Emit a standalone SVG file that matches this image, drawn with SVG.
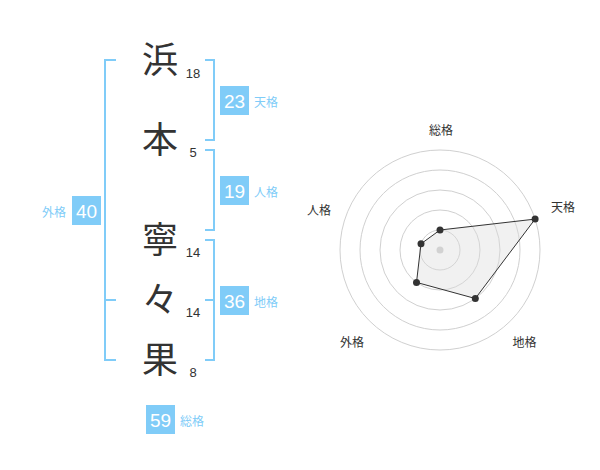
<svg xmlns="http://www.w3.org/2000/svg" width="600" height="470" viewBox="0 0 600 470">
<style>
.ch{font-family:"Noto Sans CJK JP","Noto Sans CJK SC",sans-serif;font-size:36px;fill:#333;text-anchor:middle}
.num{font-family:"Liberation Sans",Arial,sans-serif;font-size:13px;fill:#333;text-anchor:middle}
.box{fill:#80ccf8}
.bnum{font-family:"Liberation Sans",Arial,sans-serif;font-size:19px;fill:#fff;text-anchor:middle}
.blab{font-family:"Noto Sans CJK JP","Noto Sans CJK SC",sans-serif;font-size:12px;fill:#80ccf8}
.br{fill:none;stroke:#80ccf8;stroke-width:2}
.ring{fill:none;stroke:#d0d0d0;stroke-width:1}
.rlab{font-family:"Noto Sans CJK JP","Noto Sans CJK SC",sans-serif;font-size:12px;fill:#333;text-anchor:middle}
.pt{fill:#333}
</style>
<rect width="600" height="470" fill="#fff"/>
<g id="connectors">
<path class="br" d="M116,60 H105 V360 H116 M105,300 H116"/>
<path class="br" d="M205,60 H214 V140 H205"/>
<path class="br" d="M205,150 H214 V230 H205"/>
<path class="br" d="M205,240 H214 V360 H205 M205,300 H214"/>
</g>
<g id="char-hama"><text class="ch" x="160" y="73">浜</text><text class="num" x="193" y="78">18</text></g>
<g id="char-moto"><text class="ch" x="160" y="153">本</text><text class="num" x="193" y="157">5</text></g>
<g id="char-nei"><text class="ch" x="160" y="253">寧</text><text class="num" x="193" y="257">14</text></g>
<g id="char-noma"><text class="ch" x="160" y="313">々</text><text class="num" x="193" y="317">14</text></g>
<g id="char-ka"><text class="ch" x="160" y="373">果</text><text class="num" x="193" y="377">8</text></g>
<g id="tenkaku"><rect class="box" x="220" y="86" width="29" height="29"/><text class="bnum" x="234.5" y="107.5">23</text><text class="blab" x="254" y="106.5">天格</text></g>
<g id="jinkaku"><rect class="box" x="220" y="176" width="29" height="29"/><text class="bnum" x="234.5" y="197.5">19</text><text class="blab" x="254" y="196.5">人格</text></g>
<g id="chikaku"><rect class="box" x="220" y="286" width="29" height="29"/><text class="bnum" x="234.5" y="307.5">36</text><text class="blab" x="254" y="306.5">地格</text></g>
<g id="gaikaku"><rect class="box" x="72" y="196" width="29" height="29"/><text class="bnum" x="86.5" y="217.5">40</text><text class="blab" x="66" y="216.5" text-anchor="end">外格</text></g>
<g id="sokaku"><rect class="box" x="146" y="405" width="29" height="29"/><text class="bnum" x="160.5" y="426.5">59</text><text class="blab" x="180" y="425.5">総格</text></g>
<g id="radar">
<circle class="ring" cx="440" cy="250" r="20"/>
<circle class="ring" cx="440" cy="250" r="40"/>
<circle class="ring" cx="440" cy="250" r="60"/>
<circle class="ring" cx="440" cy="250" r="80"/>
<circle class="ring" cx="440" cy="250" r="100"/>
<circle cx="440" cy="250" r="3.5" fill="#cccccc"/>
<polygon points="440,230 535.1,219.1 475.3,298.5 416.5,282.4 421,243.8" fill="#dddddd" fill-opacity="0.4" stroke="#333" stroke-width="1"/>
<circle class="pt" cx="440" cy="230" r="3.5"/>
<circle class="pt" cx="535.1" cy="219.1" r="3.5"/>
<circle class="pt" cx="475.3" cy="298.5" r="3.5"/>
<circle class="pt" cx="416.5" cy="282.4" r="3.5"/>
<circle class="pt" cx="421" cy="243.8" r="3.5"/>
<text class="rlab" x="441" y="134.5">総格</text>
<text class="rlab" x="563" y="212">天格</text>
<text class="rlab" x="319" y="214.5">人格</text>
<text class="rlab" x="352" y="346.5">外格</text>
<text class="rlab" x="524.5" y="346.5">地格</text>
</g>
</svg>
